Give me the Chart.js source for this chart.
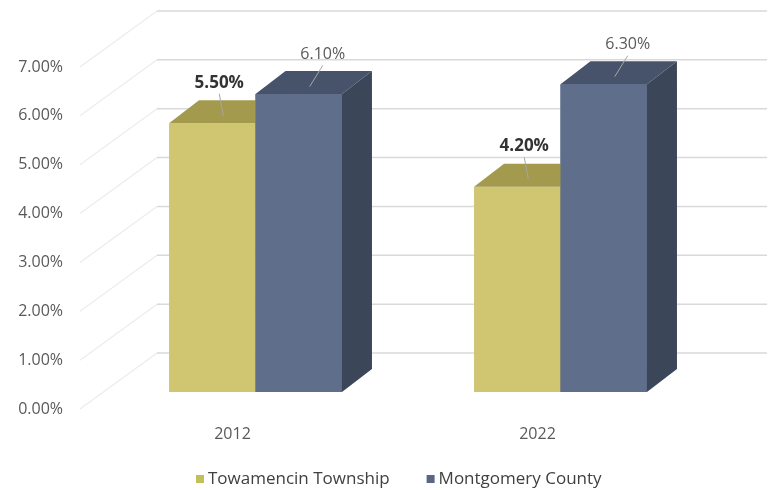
<!DOCTYPE html>
<html>
<head>
<meta charset="utf-8">
<script src="https://cdn.jsdelivr.net/npm/chart.js@4/dist/chart.umd.min.js"></script>
<style>
  html, body { margin: 0; padding: 0; background: #fff; }
  #wrap { width: 770px; height: 490px; }
</style>
</head>
<body>
<div id="wrap"><canvas id="rateChart" width="770" height="490"></canvas></div>
<script>
// values in percent
const years = ["2012", "2022"];
const towamencin = [5.5, 4.2];
const montgomery = [6.1, 6.3];
const seriesNames = ["Towamencin Township", "Montgomery County"];
const yTicks = [0, 1, 2, 3, 4, 5, 6, 7];

const FONT = "'Open Sans', 'DejaVu Sans', sans-serif";

// 3d look: where the bars sit in the box and how deep they are
const BOX = { dx: 77, dy: -56 };
const BAR_SHIFT = { dx: 23, dy: -17 };
const BAR_DEPTH = { dx: 30, dy: -23 };

const faces = [
  { front: ["#c9bd62", "#d0c672", "#ccc16a"], top: "#a39a4e", side: "#8e8740" },
  { front: ["#5a6987", "#5f6e8b", "#6c7a96"], top: "#47536b", side: "#3c4659" }
];

function frontFill(ctx, chart, i) {
  const el = ctx.element;
  if (!el || el.x === undefined) return faces[i].front[1];
  const w = el.width || 80;
  const g = chart.ctx.createLinearGradient(el.x - w / 2, 0, el.x + w / 2, 0);
  g.addColorStop(0, faces[i].front[0]);
  g.addColorStop(0.5, faces[i].front[1]);
  g.addColorStop(0.78, faces[i].front[1]);
  g.addColorStop(0.82, faces[i].front[2]);
  g.addColorStop(1, faces[i].front[2]);
  return g;
}

function poly(ctx, pts, fill) {
  ctx.beginPath();
  ctx.moveTo(pts[0][0], pts[0][1]);
  for (let k = 1; k < pts.length; k++) ctx.lineTo(pts[k][0], pts[k][1]);
  ctx.closePath();
  ctx.fillStyle = fill;
  ctx.fill();
}

// side wall + back wall gridlines, then the extra bar faces
const wallPlugin = {
  id: "walls",
  beforeDatasetsDraw(chart) {
    const { ctx, chartArea } = chart;
    const y = chart.scales.y;
    ctx.save();
    yTicks.forEach(v => {
      const py = y.getPixelForValue(v);
      ctx.strokeStyle = "#ececec";
      ctx.lineWidth = 1.2;
      ctx.beginPath();
      ctx.moveTo(chartArea.left, py);
      ctx.lineTo(chartArea.left + BOX.dx, py + BOX.dy);
      ctx.stroke();
      ctx.strokeStyle = "#d9d9d9";
      ctx.lineWidth = 1.5;
      ctx.beginPath();
      ctx.moveTo(chartArea.left + BOX.dx, py + BOX.dy);
      ctx.lineTo(chartArea.right + BOX.dx, py + BOX.dy);
      ctx.stroke();
    });
    ctx.restore();
    ctx.save();
    ctx.translate(BAR_SHIFT.dx, BAR_SHIFT.dy);
  },
  afterDatasetsDraw(chart) {
    const ctx = chart.ctx;
    const { dx, dy } = BAR_DEPTH;
    // left to right: each series' front covers the side face of the one before it
    chart.data.datasets.forEach((ds, i) => {
      const meta = chart.getDatasetMeta(i);
      const f = faces[i];
      meta.data.forEach(bar => {
        if (i > 0) bar.draw(ctx);
        const l = bar.x - bar.width / 2, r = bar.x + bar.width / 2;
        const t = bar.y, b = bar.base;
        poly(ctx, [[l, t], [r, t], [r + dx, t + dy], [l + dx, t + dy]], f.top);
        poly(ctx, [[r, t], [r + dx, t + dy], [r + dx, b + dy], [r, b]], f.side);
      });
    });
    ctx.restore();
  }
};

// value labels with short leader lines
const labelPlugin = {
  id: "valueLabels",
  afterDatasetsDraw(chart) {
    const ctx = chart.ctx;
    const styles = [
      { font: "bold 17px " + FONT, color: "#333333", off: [-8, -29] },
      { font: "16px " + FONT, color: "#595959", off: [9, -28] }
    ];
    ctx.save();
    chart.data.datasets.forEach((ds, i) => {
      const meta = chart.getDatasetMeta(i);
      const st = styles[i];
      meta.data.forEach((bar, j) => {
        const cx = bar.x + BAR_SHIFT.dx + BAR_DEPTH.dx / 2;
        const cy = bar.y + BAR_SHIFT.dy + BAR_DEPTH.dy / 2;
        const lx = cx + st.off[0], ly = cy + st.off[1];
        ctx.strokeStyle = "#a6a6a6";
        ctx.lineWidth = 1;
        ctx.beginPath();
        ctx.moveTo(lx, ly + 11);
        ctx.lineTo(cx - 4, cy + 4);
        ctx.stroke();
        ctx.font = st.font;
        ctx.fillStyle = st.color;
        ctx.textAlign = "center";
        ctx.textBaseline = "middle";
        ctx.fillText(ds.data[j].toFixed(2) + "%", lx, ly);
      });
    });
    ctx.restore();
  }
};

// legend row under the axis
const legendPlugin = {
  id: "bottomLegend",
  afterDraw(chart) {
    const ctx = chart.ctx;
    const legendColors = ["#c3c05a", "#5b6584"];
    ctx.save();
    ctx.font = "17px " + FONT;
    ctx.textBaseline = "middle";
    ctx.textAlign = "left";
    const box = 8, gap = 4, between = 37;
    const items = chart.data.datasets.map((ds, i) => ({
      text: ds.label, color: legendColors[i], w: box + gap + ctx.measureText(ds.label).width
    }));
    let x = 196;
    const y = 479;
    items.forEach(it => {
      ctx.fillStyle = it.color;
      ctx.fillRect(x, y - box / 2, box, box);
      ctx.fillStyle = "#404040";
      ctx.fillText(it.text, x + box + gap, y);
      x += it.w + between;
    });
    ctx.restore();
  }
};

new Chart(document.getElementById("rateChart"), {
  type: "bar",
  data: {
    labels: years,
    datasets: [
      {
        label: seriesNames[0],
        data: towamencin,
        backgroundColor: ctx => frontFill(ctx, ctx.chart, 0)
      },
      {
        label: seriesNames[1],
        data: montgomery,
        backgroundColor: ctx => frontFill(ctx, ctx.chart, 1)
      }
    ]
  },
  options: {
    responsive: false,
    animation: false,
    layout: { padding: { top: 67, right: 80, bottom: 45, left: 0 } },
    datasets: { bar: { barPercentage: 1, categoryPercentage: 0.567 } },
    plugins: { legend: { display: false }, tooltip: { enabled: false } },
    scales: {
      x: {
        grid: { display: false, drawTicks: false },
        border: { display: false },
        ticks: { padding: 16, color: "#595959", font: { family: FONT, size: 16 } },
        afterFit: s => { s.height = 36; }
      },
      y: {
        min: 0,
        max: 7,
        grid: { display: false, drawTicks: false },
        border: { display: false },
        ticks: {
          stepSize: 1,
          padding: 17,
          color: "#595959",
          font: { family: FONT, size: 16 },
          callback: v => v.toFixed(2) + "%"
        },
        afterFit: s => { s.width = 80; }
      }
    }
  },
  plugins: [wallPlugin, labelPlugin, legendPlugin]
});
</script>
</body>
</html>
